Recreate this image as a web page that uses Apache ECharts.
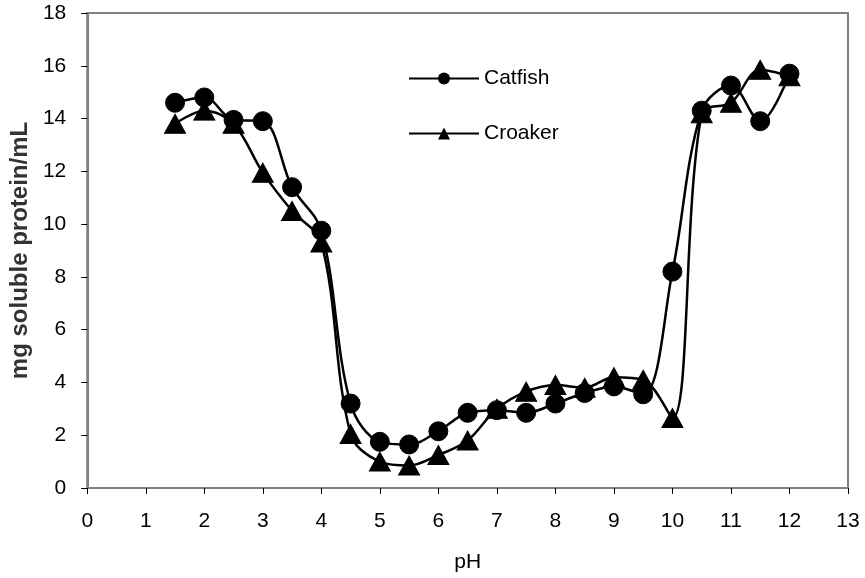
<!DOCTYPE html>
<html>
<head>
<meta charset="utf-8">
<script src="https://cdn.jsdelivr.net/npm/echarts@6/dist/echarts.min.js"></script>
<style>
  html, body { margin: 0; padding: 0; background: #fff; }
  #chart { width: 865px; height: 578px; }
</style>
</head>
<body>
<div id="chart"></div>
<script>
// Data
var phValues = [1.5, 2, 2.5, 3, 3.5, 4, 4.5, 5, 5.5, 6, 6.5, 7, 7.5, 8, 8.5, 9, 9.5, 10, 10.5, 11, 11.5, 12];
var catfish = [14.6, 14.8, 13.95, 13.9, 11.4, 9.75, 3.2, 1.75, 1.65, 2.15, 2.85, 2.95, 2.85, 3.2, 3.6, 3.85, 3.55, 8.2, 14.3, 15.25, 13.9, 15.7];
var croaker = [13.8, 14.3, 13.8, 11.95, 10.5, 9.3, 2.05, 1.0, 0.85, 1.25, 1.8, 3.0, 3.65, 3.9, 3.8, 4.2, 4.1, 2.65, 14.2, 14.6, 15.85, 15.6];

function pairs(ys) {
    var out = [];
    for (var i = 0; i < phValues.length; i++) {
        out.push([phValues[i], ys[i]]);
    }
    return out;
}

var chart = echarts.init(document.getElementById('chart'));
var font = 'Liberation Sans, Arial, sans-serif';
var axisGray = '#808080';

var option = {
    backgroundColor: '#fff',
    animation: false,
    grid: {
        left: 87, right: 17, top: 13, bottom: 89,
        show: true,
        borderColor: axisGray,
        borderWidth: 2
    },
    legend: {
        orient: 'vertical',
        left: 403,
        top: 63,
        itemWidth: 70,
        itemHeight: 15,
        itemGap: 34,
        textStyle: { fontFamily: font, fontSize: 21, color: '#000' },
        data: ['Catfish', 'Croaker']
    },
    xAxis: {
        type: 'value',
        min: 0, max: 13, interval: 1,
        name: 'pH',
        nameLocation: 'middle',
        nameGap: 64,
        nameTextStyle: { fontFamily: font, fontSize: 21, color: '#000' },
        axisLine: { lineStyle: { color: axisGray, width: 2 } },
        axisTick: { show: true, length: 6, lineStyle: { color: '#000', width: 1 } },
        axisLabel: { fontFamily: font, fontSize: 21, color: '#000', margin: 23 },
        splitLine: { show: false }
    },
    yAxis: {
        type: 'value',
        min: 0, max: 18, interval: 2,
        name: 'mg soluble protein/mL',
        nameLocation: 'middle',
        nameGap: 53,
        nameRotate: 90,
        nameTextStyle: { fontFamily: font, fontSize: 24, fontWeight: 'bold', color: '#333' },
        axisLine: { lineStyle: { color: axisGray, width: 2 } },
        axisTick: { show: true, length: 6, lineStyle: { color: '#000', width: 1 } },
        axisLabel: { fontFamily: font, fontSize: 21, color: '#000', margin: 21 },
        splitLine: { show: false }
    },
    series: [
        {
            name: 'Croaker',
            type: 'line',
            data: pairs(croaker),
            smooth: 0.35,
            symbol: 'triangle',
            symbolSize: [21, 19],
            z: 2,
            lineStyle: { color: '#000', width: 2.5 },
            itemStyle: { color: '#000', borderColor: '#000' }
        },
        {
            name: 'Catfish',
            type: 'line',
            data: pairs(catfish),
            smooth: 0.35,
            symbol: 'circle',
            symbolSize: 19,
            z: 3,
            lineStyle: { color: '#000', width: 2.5 },
            itemStyle: { color: '#000', borderColor: '#000' }
        }
    ]
};

chart.setOption(option);
</script>
</body>
</html>
